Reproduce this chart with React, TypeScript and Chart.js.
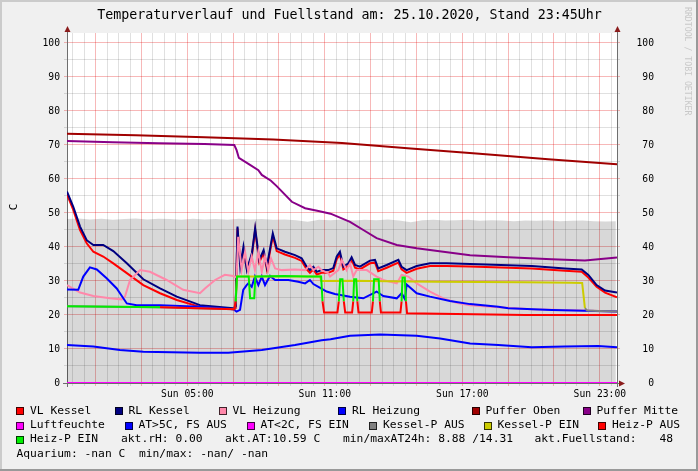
import React, { useEffect, useRef } from "react";
import { Chart, registerables } from "chart.js";
Chart.register(...registerables);

const W = 698;
const H = 471;
const MONO = '"DejaVu Sans Mono", monospace';

// time axis: hours since Sat 23:45
const START_CLOCK = 23.75;
const X_MAX = 24;
const Y_MAX = 102.94;
const Y_TICKS = [0, 5, 10, 15, 20, 25, 30, 35, 40, 45, 50, 55, 60, 65, 70, 75, 80, 85, 90, 95, 100];
const X_GRID_STEP = 0.5;
const X_LABEL_HOURS = [5, 11, 17, 23];
const DAY_NAME = "Sun";

const TITLE = "Temperaturverlauf und Fuellstand am: 25.10.2020, Stand 23:45Uhr";
const Y_UNIT = "C";
const WATERMARK = "RRDTOOL / TOBI OETIKER";

// ---- series ----
const fuellT = [0, 0.5, 1, 1.5, 2, 2.5, 3, 3.5, 4, 4.5, 5, 5.5, 6, 6.5, 7, 7.5, 8, 8.5, 9, 9.5, 10, 10.5, 11, 11.5, 12, 12.5, 13, 13.5, 14, 14.5, 15, 15.5, 16, 16.5, 17, 17.5, 18, 18.5, 19, 19.5, 20, 20.5, 21, 21.5, 22, 22.5, 23, 23.5, 23.95];
const fuellV = [48.2, 48.4, 48.1, 48.3, 48.0, 48.2, 48.4, 48.1, 48.3, 48.2, 48.0, 48.3, 48.1, 48.2, 48.0, 48.3, 48.1, 48.2, 48.0, 48.1, 47.9, 47.4, 48.0, 47.9, 48.1, 47.8, 48.0, 47.9, 48.1, 47.8, 47.3, 47.9, 48.0, 47.8, 47.9, 48.0, 47.7, 47.9, 47.8, 47.6, 47.8, 47.7, 47.9, 47.6, 47.7, 47.8, 47.6, 47.5, 47.6];

const kesselT = [0, 0.27, 0.57, 0.86, 1.15, 1.58, 2.02, 2.61, 3.33, 4.06, 4.79, 5.80, 7.26, 7.36, 7.44, 7.56, 7.70, 7.85, 8.07, 8.21, 8.39, 8.58, 8.72, 8.98, 9.15, 9.51, 9.95, 10.24, 10.46, 10.60, 10.75, 10.90, 11.11, 11.40, 11.62, 11.77, 11.91, 12.06, 12.28, 12.42, 12.57, 12.78, 13.22, 13.44, 13.58, 13.95, 14.46, 14.60, 14.82, 15.26, 15.84, 16.57, 17.59, 20.28, 21.73, 22.46, 22.75, 23.11, 23.48, 24];
const vlKesselV = [55.5, 51.0, 45.0, 41.1, 38.6, 37.2, 35.2, 32.3, 28.8, 26.4, 24.4, 22.4, 21.7, 22.0, 45.5, 35.5, 38.8, 33.5, 37.5, 45.0, 35.5, 38.2, 33.5, 43.2, 38.8, 37.8, 36.8, 35.9, 33.4, 32.4, 33.4, 31.9, 32.4, 32.4, 33.0, 36.4, 37.8, 33.4, 34.4, 36.2, 33.9, 33.4, 35.2, 35.4, 32.9, 33.9, 35.4, 33.4, 32.4, 33.6, 34.4, 34.4, 34.3, 33.7, 33.0, 32.7, 31.0, 28.3, 26.6, 25.2];
const rlKesselV = [56.3, 51.9, 46.0, 42.0, 40.6, 40.6, 38.8, 35.2, 30.5, 27.8, 25.4, 22.9, 22.0, 22.5, 46.0, 34.2, 40.1, 33.2, 38.2, 45.5, 36.2, 39.1, 34.2, 44.0, 39.6, 38.6, 37.6, 36.7, 34.2, 33.2, 34.2, 32.7, 33.2, 33.2, 33.8, 37.2, 38.6, 34.2, 35.2, 37.0, 34.7, 34.2, 36.0, 36.2, 33.7, 34.7, 36.2, 34.2, 33.2, 34.4, 35.2, 35.2, 35.0, 34.4, 33.7, 33.4, 31.8, 28.8, 27.2, 26.6];

const vlHeizungT = [0, 0.57, 1.15, 1.88, 2.39, 2.53, 2.75, 3.19, 3.62, 4.35, 5.07, 5.80, 6.02, 6.46, 6.89, 7.26, 7.40, 7.47, 7.62, 7.77, 7.91, 8.06, 8.20, 8.35, 8.50, 8.64, 8.78, 8.90, 9.08, 9.37, 9.95, 10.39, 10.60, 10.75, 10.97, 11.11, 11.40, 11.48, 11.84, 11.99, 12.20, 12.35, 12.49, 12.64, 13.08, 13.51, 13.80, 14.39, 14.60, 14.89, 15.26, 15.84, 16.42, 17.00, 17.59, 18.82, 20.28, 22.46, 24];
const vlHeizungV = [28.8, 26.6, 25.6, 24.9, 24.6, 25.4, 30.3, 33.2, 32.7, 30.3, 27.4, 26.4, 27.8, 30.3, 31.8, 31.5, 31.0, 43.0, 33.2, 38.6, 32.7, 37.2, 33.2, 38.6, 32.7, 37.2, 33.2, 36.7, 33.7, 33.2, 33.4, 33.2, 34.7, 33.2, 34.2, 33.2, 32.3, 31.3, 33.2, 36.2, 33.2, 35.2, 31.3, 33.2, 33.2, 31.3, 30.3, 29.3, 31.8, 31.3, 29.3, 26.9, 24.9, 23.6, 22.9, 22.3, 21.7, 21.3, 21.0];

const rlHeizungT = [0, 0.49, 0.71, 1.0, 1.30, 1.73, 2.17, 2.61, 3.04, 4.06, 5.80, 7.26, 7.40, 7.55, 7.69, 7.84, 7.91, 8.06, 8.20, 8.35, 8.50, 8.64, 8.86, 9.08, 9.66, 10.09, 10.39, 10.60, 10.75, 10.97, 11.33, 11.69, 12.35, 12.93, 13.51, 13.80, 14.39, 14.60, 14.75, 14.82, 15.26, 15.84, 16.71, 17.59, 18.82, 19.26, 21.15, 24];
const rlHeizungV = [27.5, 27.4, 31.3, 34.0, 33.4, 30.8, 27.8, 23.4, 22.9, 22.9, 22.4, 21.7, 21.0, 21.5, 27.4, 28.8, 29.3, 28.3, 31.3, 28.8, 31.3, 28.8, 31.5, 30.3, 30.3, 29.8, 29.3, 30.3, 29.1, 28.3, 26.9, 26.2, 25.4, 24.9, 26.9, 25.6, 24.9, 26.4, 24.6, 29.0, 26.4, 25.4, 24.1, 23.2, 22.4, 22.0, 21.5, 21.0];

const pufferObenT = [0, 3, 6, 9, 12, 15, 18, 21, 24];
const pufferObenV = [73.3, 72.9, 72.3, 71.6, 70.6, 69.0, 67.4, 65.8, 64.3];

const pufferMitteT = [0, 2, 4, 6, 7.3, 7.4, 7.5, 7.9, 8.35, 8.5, 8.9, 9.15, 9.81, 10.39, 10.97, 11.5, 12.35, 12.93, 13.51, 14.39, 15.26, 16.42, 17.59, 19.26, 21.15, 22.6, 24];
const pufferMitteV = [71.2, 70.8, 70.5, 70.3, 70.0, 68.5, 66.2, 64.5, 62.6, 61.2, 59.5, 57.9, 53.3, 51.4, 50.6, 49.8, 47.4, 45.0, 42.6, 40.6, 39.6, 38.6, 37.6, 37.0, 36.4, 36.0, 36.9];

const luftT = [0, 24];
const luftV = [0, 0];

const atT = [0, 1.15, 2.31, 3.33, 5.80, 7.04, 8.50, 9.95, 11.11, 11.5, 12.35, 13.66, 15.26, 16.28, 17.59, 18.82, 20.28, 21.73, 23.17, 24];
const atV = [11.2, 10.7, 9.7, 9.2, 8.9, 8.9, 9.7, 11.2, 12.6, 12.9, 13.9, 14.3, 13.9, 13.1, 11.6, 11.2, 10.5, 10.7, 10.9, 10.5];

const kesselPT = [0, 4.06, 7.30, 7.36, 7.42, 11.05, 11.09, 12.5, 14, 16, 18, 20, 22.0, 22.48, 22.60, 22.70, 23.2, 24];
const kesselPV = [22.6, 22.3, 21.7, 24.0, 31.3, 31.3, 30.0, 30.1, 29.9, 29.8, 29.7, 29.6, 29.5, 29.4, 22.0, 21.3, 21.2, 21.0];
const kesselPOn = [0, 0, 0, 1, 1, 1, 1, 1, 1, 1, 1, 1, 1, 1, 0, 0, 0, 0];

const heizPT = [0, 4.06, 7.30, 7.36, 7.42, 7.93, 7.99, 8.17, 8.22, 9.5, 10.5, 11.09, 11.15, 11.22, 11.80, 11.86, 11.92, 12.02, 12.08, 12.14, 12.44, 12.49, 12.53, 12.62, 12.67, 12.72, 13.30, 13.35, 13.40, 13.60, 13.65, 13.70, 14.55, 14.60, 14.64, 14.74, 14.79, 14.84, 17, 20, 24];
const heizPV = [22.6, 22.3, 21.7, 24.0, 31.3, 31.3, 24.9, 24.9, 31.3, 31.5, 31.3, 31.3, 24.0, 20.7, 20.7, 24.0, 30.5, 30.5, 24.0, 20.7, 20.7, 24.0, 30.5, 30.5, 24.0, 20.7, 20.7, 24.0, 30.5, 30.5, 24.0, 20.7, 20.7, 24.0, 31.0, 31.0, 24.0, 20.5, 20.3, 20.0, 20.0];
const heizPOn = [1, 0, 0, 1, 1, 1, 1, 1, 1, 1, 1, 1, 0, 0, 0, 1, 1, 1, 0, 0, 0, 1, 1, 1, 0, 0, 0, 1, 1, 1, 0, 0, 0, 1, 1, 1, 0, 0, 0, 0, 0];

// ---- colours ----
const C = {
  vlKessel: "#ff0000",
  rlKessel: "#000080",
  vlHeizung: "#ff88aa",
  rlHeizung: "#0000ff",
  pufferOben: "#a00000",
  pufferMitte: "#880088",
  luft: "#ff00ff",
  atWarm: "#0000ff",
  atCold: "#ff00ff",
  kesselAus: "#808080",
  kesselEin: "#cccc00",
  heizAus: "#ff0000",
  heizEin: "#00ee00",
};

// ---- legend text ----
const LEGEND_ROWS: { y: number; items: { x: number; text: string; color?: string }[] }[] = [
  { y: 411, items: [
    { x: 30, text: "VL Kessel", color: C.vlKessel },
    { x: 128.5, text: "RL Kessel", color: C.rlKessel },
    { x: 232.5, text: "VL Heizung", color: C.vlHeizung },
    { x: 352, text: "RL Heizung", color: C.rlHeizung },
    { x: 485.5, text: "Puffer Oben", color: C.pufferOben },
    { x: 596.5, text: "Puffer Mitte", color: C.pufferMitte },
  ] },
  { y: 425.5, items: [
    { x: 30, text: "Luftfeuchte", color: C.luft },
    { x: 138.5, text: "AT>5C, FS AUS", color: C.atWarm },
    { x: 260.5, text: "AT<2C, FS EIN", color: C.atCold },
    { x: 383, text: "Kessel-P AUS", color: C.kesselAus },
    { x: 497.5, text: "Kessel-P EIN", color: C.kesselEin },
    { x: 612, text: "Heiz-P AUS", color: C.heizAus },
  ] },
  { y: 439.5, items: [
    { x: 30, text: "Heiz-P EIN", color: C.heizEin },
    { x: 121, text: "akt.rH: 0.00" },
    { x: 225, text: "akt.AT:10.59 C" },
    { x: 343, text: "min/maxAT24h: 8.88 /14.31" },
    { x: 534.5, text: "akt.Fuellstand:" },
    { x: 659.5, text: "48" },
  ] },
  { y: 454, items: [
    { x: 16.5, text: "Aquarium: -nan C  min/max: -nan/ -nan" },
  ] },
];

const pts = (t: number[], v: number[]) => t.map((x, i) => ({ x, y: v[i] }));

const line = (label: string, t: number[], v: number[], color: string) => ({
  label,
  data: pts(t, v),
  borderColor: color,
  backgroundColor: color,
  borderWidth: 2,
  pointRadius: 0,
  fill: false,
  tension: 0,
});

const stateLine = (label: string, t: number[], v: number[], on: number[], onColor: string, offColor: string) => ({
  label,
  data: pts(t, v),
  borderColor: offColor,
  borderWidth: 2,
  pointRadius: 0,
  fill: false,
  tension: 0,
  segment: {
    borderColor: (ctx: any) => (on[ctx.p0DataIndex] ? onColor : offColor),
  },
});

const MINOR = "rgba(0,0,0,0.12)";
const MAJOR = "rgba(225,0,0,0.28)";

const clockOf = (t: number) => (t + START_CLOCK) % 24;
const isWholeHour = (h: number) => Math.abs(h - Math.round(h)) < 1e-6;
const xGridColor = (ctx: any) => {
  const v = ctx.tick ? ctx.tick.value : 0;
  const h = clockOf(v);
  return isWholeHour(h) && Math.round(h) % 2 === 1 ? MAJOR : MINOR;
};
const yGridColor = (ctx: any) => {
  const v = ctx.tick ? ctx.tick.value : 0;
  return v % 10 === 0 ? MAJOR : MINOR;
};

const decoPlugin = {
  id: "deco",
  beforeDraw(chart: any) {
    const { ctx, chartArea: a } = chart;
    ctx.save();
    ctx.fillStyle = "#f0f0f0";
    ctx.fillRect(0, 0, W, H);
    ctx.fillStyle = "#ffffff";
    ctx.fillRect(a.left, a.top, a.right - a.left, a.bottom - a.top);
    ctx.restore();
  },
  beforeDatasetsDraw(chart: any) {
    const { ctx, chartArea: a } = chart;
    ctx.save();
    ctx.strokeStyle = "#6e6e6e";
    ctx.lineWidth = 1;
    ctx.beginPath();
    ctx.moveTo(a.left + 0.5, a.top - 2);
    ctx.lineTo(a.left + 0.5, a.bottom + 4);
    ctx.moveTo(a.right + 0.5, a.top - 2);
    ctx.lineTo(a.right + 0.5, a.bottom + 4);
    ctx.moveTo(a.left - 4, a.bottom + 0.5);
    ctx.lineTo(a.right + 2, a.bottom + 0.5);
    ctx.stroke();
    ctx.restore();
  },
  afterDraw(chart: any) {
    const { ctx, chartArea: a } = chart;
    ctx.save();
    // arrows
    ctx.fillStyle = "#8b1c1c";
    const up = (x: number) => {
      ctx.beginPath();
      ctx.moveTo(x - 3, a.top - 1);
      ctx.lineTo(x + 3, a.top - 1);
      ctx.lineTo(x, a.top - 7);
      ctx.closePath();
      ctx.fill();
    };
    up(a.left + 0.5);
    up(a.right + 0.5);
    ctx.beginPath();
    ctx.moveTo(a.right + 2, a.bottom + 0.5 - 3);
    ctx.lineTo(a.right + 2, a.bottom + 0.5 + 3);
    ctx.lineTo(a.right + 8, a.bottom + 0.5);
    ctx.closePath();
    ctx.fill();

    // title
    ctx.fillStyle = "#000";
    ctx.font = `13.3px ${MONO}`;
    ctx.textAlign = "center";
    ctx.textBaseline = "middle";
    ctx.fillText(TITLE, 349.5, 16);

    // unit label
    ctx.save();
    ctx.font = `11px ${MONO}`;
    ctx.translate(14.5, 207);
    ctx.rotate(-Math.PI / 2);
    ctx.fillText(Y_UNIT, 0, 0);
    ctx.restore();

    // watermark
    ctx.save();
    ctx.fillStyle = "#c8c8c8";
    ctx.font = `8.2px ${MONO}`;
    ctx.textAlign = "left";
    ctx.translate(687.5, 7);
    ctx.rotate(Math.PI / 2);
    ctx.fillText(WATERMARK, 0, 0);
    ctx.restore();

    // legend
    ctx.font = `11.3px ${MONO}`;
    ctx.textAlign = "left";
    ctx.textBaseline = "middle";
    for (const row of LEGEND_ROWS) {
      for (const it of row.items) {
        if (it.color) {
          const bx = Math.round(it.x - 14);
          const by = Math.round(row.y - 4);
          ctx.fillStyle = it.color;
          ctx.fillRect(bx, by, 8, 8);
          ctx.strokeStyle = "rgba(0,0,0,0.75)";
          ctx.lineWidth = 1;
          ctx.strokeRect(bx + 0.5, by + 0.5, 7, 7);
        }
        ctx.fillStyle = "#000";
        ctx.fillText(it.text, it.x, row.y);
      }
    }

    // frame
    ctx.fillStyle = "#cbcbcb";
    ctx.fillRect(0, 0, W, 2);
    ctx.fillRect(0, 0, 2, H);
    ctx.fillStyle = "#999999";
    ctx.fillRect(0, H - 2, W, 2);
    ctx.fillRect(W - 2, 0, 2, H);
    ctx.restore();
  },
};

export default function App() {
  const ref = useRef<HTMLCanvasElement>(null);
  useEffect(() => {
    if (!ref.current) return;
    const rrdOrder: any[] = [
      {
        label: "Fuellstand",
        data: pts(fuellT, fuellV),
        fill: "origin",
        backgroundColor: "rgba(0,0,0,0.153)",
        borderColor: "rgba(0,0,0,0)",
        borderWidth: 0,
        pointRadius: 0,
        tension: 0,
      },
      line("VL Kessel", kesselT, vlKesselV, C.vlKessel),
      line("RL Kessel", kesselT, rlKesselV, C.rlKessel),
      line("VL Heizung", vlHeizungT, vlHeizungV, C.vlHeizung),
      line("RL Heizung", rlHeizungT, rlHeizungV, C.rlHeizung),
      line("Puffer Oben", pufferObenT, pufferObenV, C.pufferOben),
      line("Puffer Mitte", pufferMitteT, pufferMitteV, C.pufferMitte),
      line("Luftfeuchte", luftT, luftV, C.luft),
      line("AT", atT, atV, C.atWarm),
      stateLine("Kessel-P", kesselPT, kesselPV, kesselPOn, C.kesselEin, C.kesselAus),
      stateLine("Heiz-P", heizPT, heizPV, heizPOn, C.heizEin, C.heizAus),
    ];
    const datasets = rrdOrder.slice().reverse();

    const xTicks: { value: number }[] = [];
    for (let v = 0.25; v < X_MAX; v += X_GRID_STEP) xTicks.push({ value: v });
    const yTicks = Y_TICKS.map((v) => ({ value: v }));
    const tickFont = { family: MONO, size: 9.7 };

    const chart = new Chart(ref.current, {
      type: "line",
      data: { datasets },
      plugins: [decoPlugin],
      options: {
        responsive: false,
        animation: false,
        devicePixelRatio: 1,
        events: [],
        layout: { padding: { top: 33, right: 44, bottom: 0, left: 0 } },
        plugins: { legend: { display: false }, tooltip: { enabled: false }, title: { display: false } },
        scales: {
          x: {
            type: "linear",
            position: "bottom",
            min: 0,
            max: X_MAX,
            afterBuildTicks: (s: any) => { s.ticks = xTicks.map((t) => ({ ...t })); },
            afterFit: (s: any) => { s.height = 88; },
            border: { display: false },
            grid: { color: xGridColor, lineWidth: 1, drawTicks: true, tickLength: 3 },
            ticks: {
              autoSkip: false,
              maxRotation: 0,
              minRotation: 0,
              padding: 3,
              color: "#000",
              font: tickFont,
              callback: (value: any) => {
                const h = clockOf(Number(value));
                if (!isWholeHour(h)) return "";
                const hr = Math.round(h);
                if (!X_LABEL_HOURS.includes(hr)) return "";
                return `${DAY_NAME} ${String(hr).padStart(2, "0")}:00`;
              },
            },
          },
          y: {
            type: "linear",
            position: "left",
            min: 0,
            max: Y_MAX,
            afterBuildTicks: (s: any) => { s.ticks = yTicks.map((t) => ({ ...t })); },
            afterFit: (s: any) => { s.width = 67; },
            border: { display: false },
            grid: { color: yGridColor, lineWidth: 1, drawTicks: true, tickLength: 3 },
            ticks: {
              padding: 4,
              color: "#000",
              font: tickFont,
              callback: (v: any) => (Number(v) % 10 === 0 ? String(v) : ""),
            },
          },
          y2: {
            type: "linear",
            position: "right",
            min: 0,
            max: Y_MAX,
            afterBuildTicks: (s: any) => { s.ticks = yTicks.map((t) => ({ ...t })); },
            afterFit: (s: any) => { s.width = 37; },
            border: { display: false },
            grid: { color: yGridColor, lineWidth: 1, drawOnChartArea: false, drawTicks: true, tickLength: 3 },
            ticks: {
              padding: 4,
              crossAlign: "far",
              color: "#000",
              font: tickFont,
              callback: (v: any) => (Number(v) % 10 === 0 ? String(v) : ""),
            },
          },
        },
      } as any,
    });
    return () => chart.destroy();
  }, []);

  return (
    <div style={{ position: "absolute", left: 0, top: 0, width: W, height: H }}>
      <canvas ref={ref} width={W} height={H} style={{ display: "block", width: W, height: H }} />
    </div>
  );
}
